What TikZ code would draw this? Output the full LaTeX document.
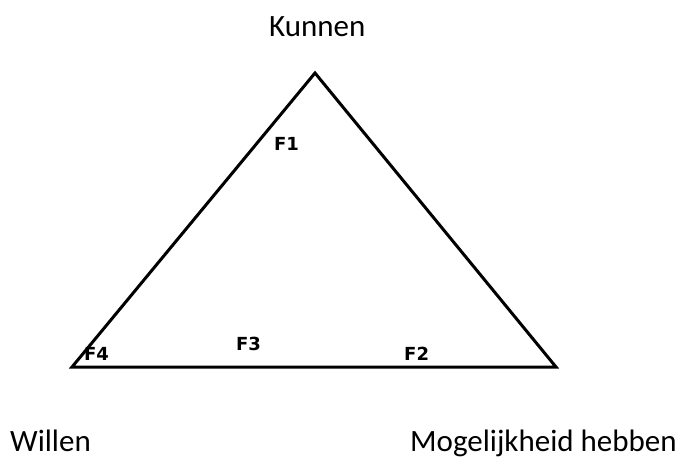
\documentclass[tikz,border=0pt]{standalone}
\usepackage{fontspec}
\setmainfont{Carlito}
\newfontfamily\flabelfont{DejaVu Sans}
\usepackage{tikz}
\usetikzlibrary{positioning}

\begin{document}
\begin{tikzpicture}[
  x=1pt, y=-1pt,
  corner/.style={inner sep=0pt, anchor=base west, font=\fontsize{31}{34}\selectfont},
  field/.style={inner sep=0pt, anchor=base west, font=\flabelfont\bfseries\fontsize{18}{20}\selectfont},
  side/.style={line width=3pt, line join=miter}
]
\useasboundingbox (0,0) rectangle (687,460);

\coordinate (top) at (315,73);
\coordinate (left) at (72,367);
\coordinate (right) at (556,367);
\draw[side] (top) -- (right) -- (left) -- cycle;

\node[corner] (kunnen) at (269,37) {Kunnen};
\node[corner] (willen) at (10,451) {Willen};
\node[corner] (mogelijk) at (410,451) {Mogelijkheid hebben};

\node[field] (f1) at (274,150) {F1};
\node[field] (f2) at (404,360) {F2};
\node[field] (f3) at (236,350) {F3};
\node[field] (f4) at (84,360) {F4};
\end{tikzpicture}
\end{document}
